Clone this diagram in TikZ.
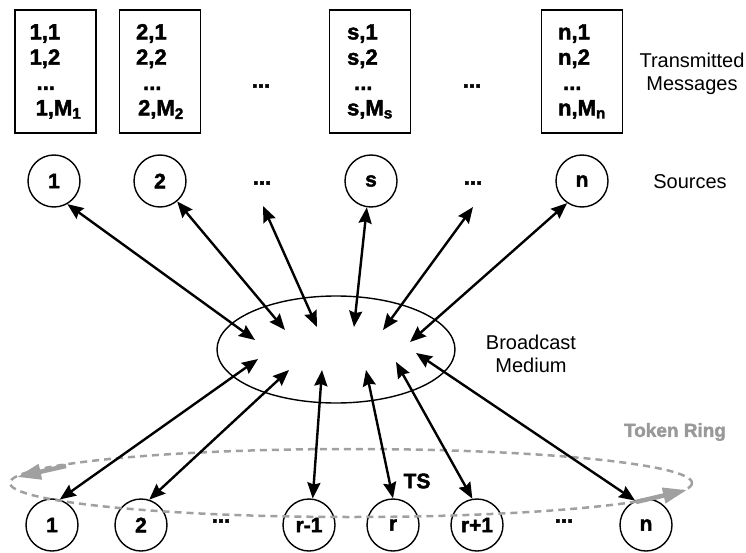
\documentclass[tikz,border=0pt]{standalone}
\usepackage{fontspec}
\setmainfont{Liberation Sans}
\newfontfamily\heavyfont[BoldFeatures={FakeBold=2}]{Liberation Sans}
\usetikzlibrary{arrows.meta,shapes.geometric}
\definecolor{ringgray}{HTML}{A0A0A0}
\definecolor{txtgray}{HTML}{999999}
\begin{document}
\begin{tikzpicture}[x=1pt,y=-1pt,
  msgbox/.style={draw, line width=1.4pt, minimum width=81pt, minimum height=123pt, inner sep=0pt, align=left, font=\fontsize{22}{25.3}\heavyfont\bfseries},
  nodecirc/.style={draw, circle, line width=1.4pt, minimum size=52pt, inner sep=0pt, font=\fontsize{21}{21}\heavyfont\bfseries},
  dotsnode/.style={font=\fontsize{22}{22}\heavyfont\bfseries, inner sep=0pt},
  lbl/.style={font=\fontsize{20}{23.5}\selectfont, align=center},
  biarrow/.style={line width=2.4pt, {Stealth[length=16pt,width=13pt,inset=2pt]}-{Stealth[length=16pt,width=13pt,inset=2pt]}},
  ringarrow/.style={line width=4.5pt, ringgray, -{Stealth[length=24pt,width=15pt,inset=0pt]}},
]
\useasboundingbox (0,0) rectangle (746,553);

% message boxes
\node[msgbox] (m1) at (55.5,71.5) {1,1\\1,2\\\hspace*{7pt}...\\\hspace*{6pt}1,M\textsubscript{1}};
\node[msgbox] (m2) at (160,71.5) {2,1\\2,2\\\hspace*{7pt}...\\\hspace*{2pt}2,M\textsubscript{2}};
\node[msgbox] (ms) at (370,71.5) {s,1\\s,2\\\hspace*{7pt}...\\s,M\textsubscript{s}};
\node[msgbox] (mn) at (582,71.5) {n,1\\n,2\\\hspace*{5pt}...\\n,M\textsubscript{n}};
\node[dotsnode] (bd1) at (261,86) {...};
\node[dotsnode] (bd2) at (472,86) {...};
\node[lbl] (tm) at (692,74) {Transmitted\\Messages};

% sources
\node[nodecirc] (s1) at (54,181) {1};
\node[nodecirc] (s2) at (160,181) {2};
\node[nodecirc] (ss) at (371,181) {s};
\node[nodecirc] (sn) at (582,181) {n};
\node[dotsnode] (sd1) at (262,183) {...};
\node[dotsnode] (sd2) at (473,183) {...};
\node[lbl] (src) at (690,182) {Sources};
\coordinate (d1) at (263,206);
\coordinate (d2) at (473,207);

% broadcast medium
\node[draw, ellipse, line width=1.4pt, minimum width=238pt, minimum height=107pt, inner sep=0pt] (bm) at (336,349.5) {};
\node[lbl] (bml) at (531,354) {Broadcast\\Medium};
\coordinate (t1) at (255,340);
\coordinate (t2) at (285,330);
\coordinate (t3) at (317,327);
\coordinate (t4) at (354,327);
\coordinate (t5) at (383,330);
\coordinate (t6) at (410,342);
\coordinate (u1) at (258,359);
\coordinate (u2) at (289,370);
\coordinate (u3) at (322,370);
\coordinate (u4) at (366,370);
\coordinate (u5) at (396,362);
\coordinate (u6) at (416,353);

% receivers
\node[nodecirc] (b1) at (52,525) {1};
\node[nodecirc] (b2) at (141,525) {2};
\node[nodecirc] (b3) at (309,525) {r-1};
\node[nodecirc] (b4) at (393,525) {r};
\node[nodecirc] (b5) at (477,525) {r+1};
\node[nodecirc] (b6) at (646,525) {n};
\node[dotsnode] (bdots1) at (221,521) {...};
\node[dotsnode] (bdots2) at (564,521) {...};

% token ring
\draw[ringgray, line width=2.5pt, dash pattern=on 7pt off 5pt] (351,483) ellipse [x radius=341, y radius=34];
\coordinate (ra1) at (66,466);
\coordinate (ra2) at (17,477);
\coordinate (rb1) at (636,502);
\coordinate (rb2) at (687,490);
\draw[ringarrow] (ra1) -- (ra2);
\draw[ringarrow] (rb1) -- (rb2);
\node[font=\fontsize{19}{19}\heavyfont\bfseries, text=txtgray] (tr) at (675,432) {Token Ring};
\node[font=\fontsize{21}{21}\heavyfont\bfseries] (ts) at (417,481) {TS};

% arrows
\draw[biarrow] (s1.-60) -- (t1);
\draw[biarrow] (s2.-50) -- (t2);
\draw[biarrow] (d1) -- (t3);
\draw[biarrow] (ss.-99) -- (t4);
\draw[biarrow] (d2) -- (t5);
\draw[biarrow] (sn.-124) -- (t6);
\draw[biarrow] (u1) -- (b1.73);
\draw[biarrow] (u2) -- (b2.72);
\draw[biarrow] (u3) -- (b3.82);
\draw[biarrow] (u4) -- (b4.90);
\draw[biarrow] (u5) -- (b5.100);
\draw[biarrow] (u6) -- (b6.114);
\end{tikzpicture}
\end{document}
